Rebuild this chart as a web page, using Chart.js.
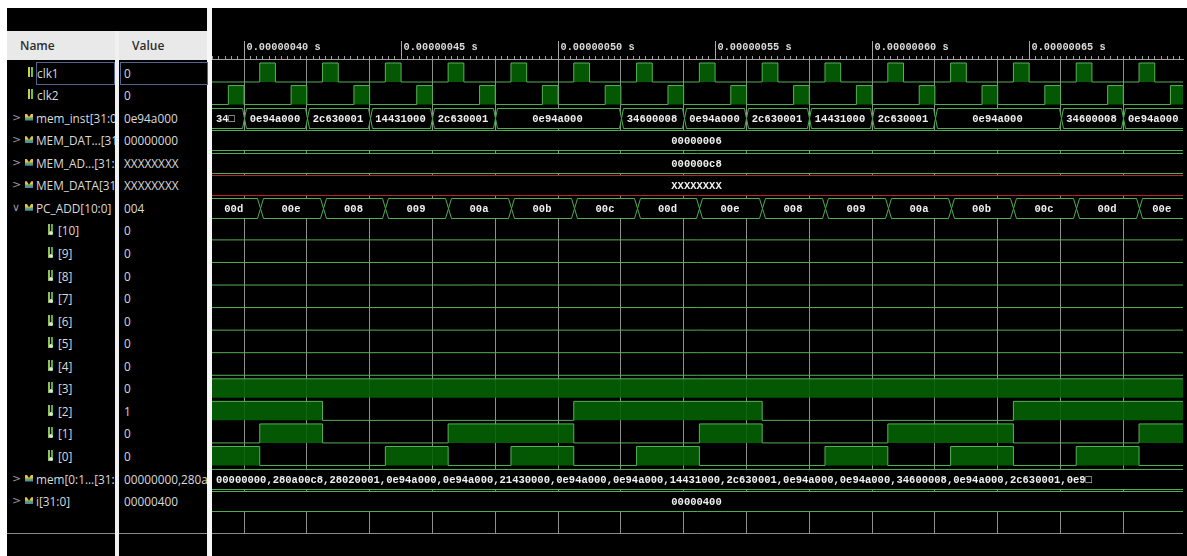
<!DOCTYPE html>
<html>
<head>
<meta charset="utf-8">
<title>Waveform</title>
<script src="https://cdn.jsdelivr.net/npm/chart.js@4.4.1/dist/chart.umd.min.js"></script>
<style>
  html, body { margin: 0; padding: 0; width: 1187px; height: 556px; overflow: hidden; background: #fff; }
  .abs { position: absolute; }
  #panel { left: 7px; top: 8px; width: 1180px; height: 548px; background: #000; }
  #wave { left: 0; top: 0; }
  .hdr { font: 600 12px "Open Sans", "Noto Sans", sans-serif; line-height: 29px;
         background: #e9e9e9; color: #2e2e2e; box-sizing: border-box; padding-left: 13px; }
  .cell { font: 11.8px "Open Sans", "Noto Sans", sans-serif; line-height: 18px; height: 18px;
          white-space: nowrap; overflow: hidden; color: #dadada; }
  .arrow { font: 11px "DejaVu Sans", sans-serif; line-height: 16px; color: #9a9a9a; }
  .icBit { width: 6px; height: 10px;
           background: linear-gradient(to right, #c7d43c 0 2px, transparent 2px 3px, #6fbf4a 3px 5px, transparent 5px); }
  .icSub { width: 6px; height: 11px;
           background: radial-gradient(circle at 3px 9px, #d9e6c9 0 1.5px, transparent 2px),
                       linear-gradient(to right, #8fc05a 0 2px, transparent 2px 3px, #5ea84a 3px 5px, transparent 5px); }
  .icBus { width: 8px; height: 7px; background: linear-gradient(#e6c23c 0 45%, #5fae5a 55%, #4c7fbf);
           clip-path: polygon(0 0, 22% 0, 50% 50%, 78% 0, 100% 0, 100% 100%, 0 100%); }
  .sel { border: 1px solid #55648a; height: 21px; }
</style>
</head>
<body>
<div id="panel" class="abs"></div>
<canvas id="wave" class="abs" width="1187" height="556" style="width:1187px;height:556px"></canvas>
<div id="left"></div>
<script>
// ===== Signals (left panel) =====
const signalNames = ['clk1', 'clk2', 'mem_inst[31:0]', 'MEM_DAT...[31:0]', 'MEM_AD...[31:0]', 'MEM_DATA[31:0]',
  'PC_ADD[10:0]', '[10]', '[9]', '[8]', '[7]', '[6]', '[5]', '[4]', '[3]', '[2]', '[1]', '[0]',
  'mem[0:1...[31:0]', 'i[31:0]'];
const signalValues = ['0', '0', '0e94a000', '00000000', 'XXXXXXXX', 'XXXXXXXX', '004',
  '0', '0', '0', '0', '0', '0', '0', '0', '1', '0', '0', '00000000,280a00c8,28020001', '00000400'];
const signalKinds = ['bit', 'bit', 'bus', 'bus', 'bus', 'bus', 'open',
  'sub', 'sub', 'sub', 'sub', 'sub', 'sub', 'sub', 'sub', 'sub', 'sub', 'sub', 'bus', 'bus'];

// ===== Time axis (ns) =====
const T_MIN = 389.8, T_MAX = 699.0;
const gridTimes = [400, 420, 440, 460, 480, 500, 520, 540, 560, 580, 600, 620, 640, 660, 680];
const labelTimes = [400, 450, 500, 550, 600, 650];

// ===== Single-bit waves: high intervals [from, to] in ns =====
const clk1High = [[405, 410], [425, 430], [445, 450], [465, 470], [485, 490], [505, 510], [525, 530], [545, 550],
  [565, 570], [585, 590], [605, 610], [625, 630], [645, 650], [665, 670], [685, 690]];
const clk2High = [[395, 400], [415, 420], [435, 440], [455, 460], [475, 480], [495, 500], [515, 520], [535, 540],
  [555, 560], [575, 580], [595, 600], [615, 620], [635, 640], [655, 660], [675, 680], [695, 700]];
const bit3High = [[380, 710]];
const bit2High = [[380, 425], [505, 565], [645, 710]];
const bit1High = [[405, 425], [465, 505], [545, 565], [605, 645], [685, 710]];
const bit0High = [[380, 405], [445, 465], [485, 505], [525, 545], [585, 605], [625, 645], [665, 685]];

// ===== Buses: segment start times (ns) and shown values =====
const memInstStart = [380, 400, 420, 440, 460, 480, 520, 540, 560, 580, 600, 620, 660, 680];
const memInstValue = ['34600008', '0e94a000', '2c630001', '14431000', '2c630001', '0e94a000', '34600008',
  '0e94a000', '2c630001', '14431000', '2c630001', '0e94a000', '34600008', '0e94a000'];
const pcAddStart = [380, 405, 425, 445, 465, 485, 505, 525, 545, 565, 585, 605, 625, 645, 665, 685];
const pcAddValue = ['00d', '00e', '008', '009', '00a', '00b', '00c', '00d', '00e', '008', '009', '00a', '00b',
  '00c', '00d', '00e'];
const memDatValue = ['00000006'];
const memAdValue = ['000000c8'];
const memDataValue = ['XXXXXXXX'];
const memWords = ['00000000', '280a00c8', '28020001', '0e94a000', '0e94a000', '21430000', '0e94a000', '0e94a000',
  '14431000', '2c630001', '0e94a000', '0e94a000', '34600008', '0e94a000', '2c630001', '0e9\u25a1'];
const iValue = ['00000400'];

const T_START = 380, T_END = 710;
const Y_MIN = -0.5985, Y_MAX = 20.414;   // row index scale (row 0 = clk1)
const HALF = 0.421, BUS_HALF = 0.443;
const ROW_Y0 = 72.5, ROW_PITCH = 22.56; // left panel row placement

const GREEN = '#4fae4f', RED = '#b0282a', FILL = 'rgba(4,98,4,0.9)', WAVE = '#58b058';
const MONO = '"Liberation Mono", "DejaVu Sans Mono", monospace';

// ===== Left panel =====
const left = document.getElementById('left');
function box(cls, x, y, w, h, text, extra) {
  const d = document.createElement('div');
  d.className = 'abs ' + (cls || '');
  d.style.left = x + 'px'; d.style.top = y + 'px';
  if (w != null) d.style.width = w + 'px';
  if (h != null) d.style.height = h + 'px';
  if (extra) Object.assign(d.style, extra);
  if (text != null) d.textContent = text;
  left.appendChild(d);
  return d;
}
box('', 7, 8, 200, 548, null, { background: '#000' });
box('hdr', 7, 31, 108, 29, 'Name');
box('hdr', 119, 31, 88, 29, 'Value');
box('', 115, 31, 4, 525, null, { background: '#f0f0f0' });
box('', 207, 8, 5, 548, null, { background: '#f6f6f6' });
box('', 7, 533, 108, 1, null, { background: '#8a8a8a' });
box('', 119, 533, 88, 1, null, { background: '#8a8a8a' });

signalNames.forEach((name, i) => {
  const c = ROW_Y0 + ROW_PITCH * i;
  const kind = signalKinds[i];
  let tx = 36;
  if (kind === 'bit') { box('icBit', 28, c - 6, null, null); tx = 37; }
  if (kind === 'sub') { box('icSub', 48, c - 6, null, null); tx = 58; }
  if (kind === 'bus' || kind === 'open') {
    box('icBus', 25, c - 4, null, null);
    box('arrow', 12, c - 8, null, 16, kind === 'open' ? '\u2228' : '>');
  }
  box('cell', tx, c - 9, 115 - tx, null, name);
  box('cell', 124, c - 9, 83, null, signalValues[i]);
});
// selected row outline (clk1)
box('sel', 36, ROW_Y0 - 11, 77, null, null);
box('sel', 120, ROW_Y0 - 11, 86, null, null);

// ===== Wave datasets =====
function digital(row, highs) {
  const hi = row - HALF, lo = row + HALF;
  const pts = [{ x: T_START, y: lo }];
  highs.forEach(([a, b]) => { pts.push({ x: a, y: hi }); pts.push({ x: b, y: lo }); });
  pts.push({ x: T_END, y: lo });
  return {
    data: pts, stepped: 'before', fill: { value: lo }, backgroundColor: FILL,
    borderColor: WAVE, borderWidth: 1, pointRadius: 0, tension: 0
  };
}
const digitalRows = [
  [0, clk1High], [1, clk2High],
  [7, []], [8, []], [9, []], [10, []], [11, []], [12, []], [13, []],
  [14, bit3High], [15, bit2High], [16, bit1High], [17, bit0High]
];
const buses = [
  { row: 2, starts: memInstStart, values: memInstValue, color: GREEN, d: 2 },
  { row: 3, starts: [T_START], values: memDatValue, color: GREEN, d: 2 },
  { row: 4, starts: [T_START], values: memAdValue, color: GREEN, d: 2 },
  { row: 5, starts: [T_START], values: memDataValue, color: RED, d: 2 },
  { row: 6, starts: pcAddStart, values: pcAddValue, color: GREEN, d: 3 },
  { row: 18, starts: [T_START], values: [memWords.join(',')], color: GREEN, d: 2, align: 'left' },
  { row: 19, starts: [T_START], values: iValue, color: GREEN, d: 2 }
];

// full text if it fits, otherwise a cut prefix closed by a box glyph
function fitText(ctx, txt, width) {
  if (ctx.measureText(txt).width <= width - 4) return txt;
  let n = txt.length;
  while (n > 0 && ctx.measureText(txt.slice(0, n) + '\u25a1').width > width - 10) n--;
  return txt.slice(0, n) + '\u25a1';
}

function drawBus(ctx, x, y, area, bus) {
  const top = Math.round(y.getPixelForValue(bus.row - BUS_HALF)) + 0.5;
  const bot = Math.round(y.getPixelForValue(bus.row + BUS_HALF)) + 0.5;
  const mid = (top + bot) / 2;
  const d = bus.d;
  ctx.font = 'bold 10.5px ' + MONO;
  ctx.textBaseline = 'middle';
  ctx.textAlign = 'left';
  bus.starts.forEach((t0, i) => {
    const t1 = i + 1 < bus.starts.length ? bus.starts[i + 1] : T_END;
    const x0 = Math.round(x.getPixelForValue(t0)) + 0.5, x1 = Math.round(x.getPixelForValue(t1)) + 0.5;
    ctx.beginPath();
    ctx.moveTo(x0, mid);
    ctx.lineTo(x0 + d, top); ctx.lineTo(x1 - d, top);
    ctx.lineTo(x1, mid);
    ctx.lineTo(x1 - d, bot); ctx.lineTo(x0 + d, bot);
    ctx.closePath();
    ctx.fillStyle = '#000';
    ctx.fill();
    ctx.strokeStyle = bus.color;
    ctx.lineWidth = 1;
    ctx.stroke();
    const vl = Math.max(x0 + d, area.left), vr = Math.min(x1 - d, area.right);
    const txt = fitText(ctx, bus.values[i], vr - vl);
    const w = ctx.measureText(txt).width;
    ctx.fillStyle = '#f0f0f0';
    if (bus.align === 'left' || txt !== bus.values[i]) ctx.fillText(txt, vl + 4, mid + 0.5);
    else ctx.fillText(txt, (vl + vr) / 2 - w / 2 - 1, mid + 0.5);
  });
}

const wavePlugin = {
  id: 'wave',
  afterDatasetsDraw(chart) {
    const { ctx, chartArea: a, scales: { x, y } } = chart;
    ctx.save();
    ctx.beginPath();
    ctx.rect(a.left, a.top, a.right - a.left, a.bottom - a.top);
    ctx.clip();
    buses.forEach(b => drawBus(ctx, x, y, a, b));
    ctx.restore();

    ctx.save();
    ctx.lineWidth = 1;
    ctx.strokeStyle = '#a8a8a8';
    ctx.fillStyle = '#dcdcdc';
    ctx.font = 'bold 10.3px ' + MONO;
    ctx.textBaseline = 'middle';
    labelTimes.forEach(t => {
      const px = Math.round(x.getPixelForValue(t)) + 0.5;
      ctx.beginPath(); ctx.moveTo(px, 41); ctx.lineTo(px, a.top); ctx.stroke();
      ctx.fillText((t / 1e9).toFixed(8) + ' s', px + 2, 47.5);
    });
    ctx.strokeStyle = '#8a8a8a';
    ctx.beginPath();
    ctx.moveTo(a.left, Math.round(a.bottom) + 0.5);
    ctx.lineTo(a.right, Math.round(a.bottom) + 0.5);
    ctx.stroke();
    ctx.restore();
  }
};

new Chart(document.getElementById('wave'), {
  type: 'line',
  data: { datasets: digitalRows.map(([row, highs]) => digital(row, highs)) },
  options: {
    responsive: false,
    animation: false,
    devicePixelRatio: 1,
    events: [],
    layout: { padding: { left: 212, right: 4, top: 56, bottom: 23 } },
    plugins: { legend: { display: false }, tooltip: { enabled: false } },
    scales: {
      x: {
        type: 'linear', position: 'top', min: T_MIN, max: T_MAX,
        afterBuildTicks: scale => {
          // ruler marks every 2 ns
          const ticks = [];
          for (let t = 390; t <= 698; t += 2) ticks.push({ value: t });
          scale.ticks = ticks;
        },
        ticks: { display: false },
        grid: {
          color: c => (c.tick && gridTimes.includes(c.tick.value)) ? '#8e8e8e' : 'rgba(0,0,0,0)',
          tickColor: '#9c9c9c', tickLength: 3, lineWidth: 1
        },
        border: { display: true, color: '#a4a4a4' }
      },
      y: { type: 'linear', min: Y_MIN, max: Y_MAX, reverse: true, display: false }
    }
  },
  plugins: [wavePlugin]
});
</script>
</body>
</html>
